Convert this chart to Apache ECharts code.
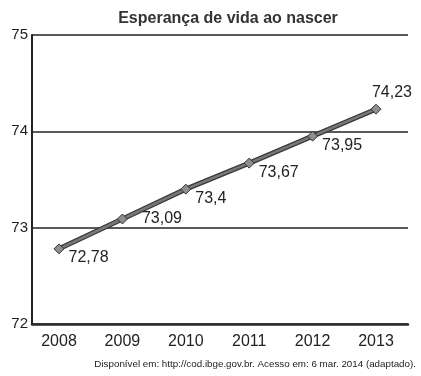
<!DOCTYPE html>
<html>
<head>
<meta charset="utf-8">
<script src="https://cdn.jsdelivr.net/npm/echarts@6/dist/echarts.min.js"></script>
<style>
  html, body { margin: 0; padding: 0; background: #fff; }
  #chart { width: 421px; height: 376px; }
</style>
</head>
<body>
<div id="chart"></div>
<script>
var years = [2008, 2009, 2010, 2011, 2012, 2013];
var esperanca = [72.78, 73.09, 73.4, 73.67, 73.95, 74.23];
var rotulos = ['72,78', '73,09', '73,4', '73,67', '73,95', '74,23'];
var yTicks = [72, 73, 74, 75];

var chart = echarts.init(document.getElementById('chart'));

var fonte = '"Liberation Sans", Arial, sans-serif';
//posição dos rótulos: abaixo à direita, 2009 ao lado, o último acima
function rotuloPos(i) {
    if (i === esperanca.length - 1) return { position: 'top', distance: 3, offset: [16, 0] };
    if (i === 1) return { position: 'right', distance: 3, offset: [11, 0] };
    return { position: 'right', distance: 3, offset: [1, 9] };
}
var pontos = esperanca.map(function (v, i) {
    return { value: [years[i], v], label: rotuloPos(i) };
});
var linha = esperanca.map(function (v, i) { return [years[i], v]; });

chart.setOption({
    animation: false,
    title: {
        text: 'Esperança de vida ao nascer',
        left: 223,
        textAlign: 'center',
        top: 6,
        textStyle: { fontFamily: fonte, fontSize: 16, fontWeight: 'bold', color: '#333' }
    },
    grid: { left: 32, right: 13, top: 35, bottom: 52 },
    xAxis: {
        type: 'value',
        min: 2007.574,
        max: 2013.505,
        axisLine: { show: true, onZero: false, lineStyle: { color: '#2a2a2a', width: 2.5 } },
        axisTick: { show: false },
        splitLine: { show: false },
        axisLabel: {
            customValues: years,
            fontFamily: fonte, fontSize: 16, color: '#222', margin: 10,
            formatter: function (v) { return String(v); }
        }
    },
    yAxis: {
        type: 'value',
        min: yTicks[0],
        max: yTicks[yTicks.length - 1],
        interval: 1,
        axisLine: { show: true, lineStyle: { color: '#222', width: 2 } },
        axisTick: { show: false },
        axisLabel: { fontFamily: fonte, fontSize: 15, color: '#222', margin: 4 },
        splitLine: { show: true, lineStyle: { color: '#222', width: 1.6 } }
    },
    series: [
        {
            type: 'line',
            data: linha,
            symbol: 'none',
            lineStyle: { color: '#3a3b39', width: 5 },
            silent: true,
            z: 2
        },
        {
            type: 'line',
            data: pontos,
            symbol: 'diamond',
            symbolSize: 10,
            itemStyle: { color: '#8d8f8b', borderColor: '#333', borderWidth: 1 },
            lineStyle: { color: '#757a72', width: 2.5 },
            label: {
                show: true,
                fontFamily: fonte,
                fontSize: 16,
                color: '#222',
                formatter: function (p) { return rotulos[p.dataIndex]; }
            },
            z: 3
        }
    ],
    graphic: [{
        type: 'text',
        right: 5,
        top: 359,
        style: {
            text: 'Disponível em: http://cod.ibge.gov.br. Acesso em: 6 mar. 2014 (adaptado).',
            font: '9.8px ' + fonte,
            fill: '#222'
        }
    }]
});
</script>
</body>
</html>
